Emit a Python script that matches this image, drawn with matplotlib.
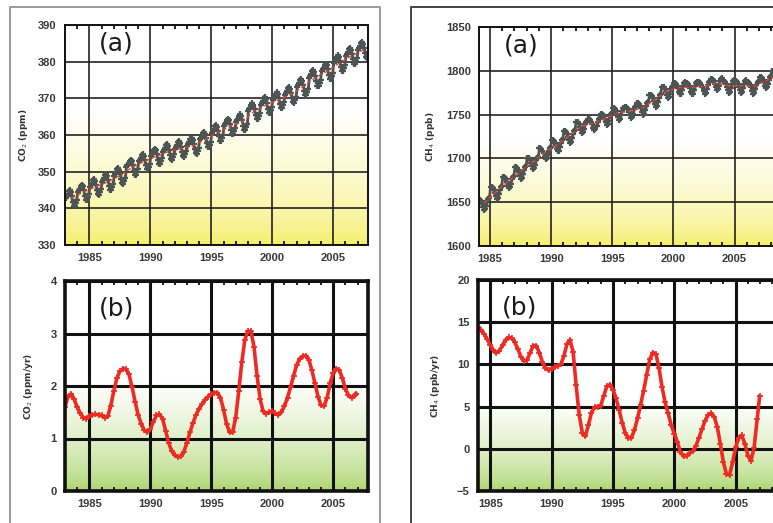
import numpy as np
import matplotlib
matplotlib.use("Agg")
import matplotlib.pyplot as plt
from matplotlib.lines import Line2D
from matplotlib.ticker import MultipleLocator

# ---------------- data ----------------
co2_years = list(range(1983, 2008))
co2_annual = [342.8, 344.4, 345.9, 347.2, 348.9, 351.2, 352.8, 354.2, 355.5, 356.3,
              357.1, 358.8, 360.6, 362.4, 363.5, 366.5, 368.2, 369.5, 371.0, 373.1,
              375.6, 377.4, 379.6, 381.6, 383.3]
co2_season = [0.0, 0.5, 1.0, 1.8, 2.1, 1.6, 0.5, -1.0, -2.1, -2.2, -1.4, -0.6]

ch4_years = list(range(1984, 2009))
ch4_annual = [1649, 1662, 1674, 1685, 1696, 1707, 1716, 1726, 1737, 1740,
              1746, 1752, 1754, 1758, 1767, 1777, 1781, 1781, 1782, 1786,
              1783, 1783, 1782, 1788, 1795]
ch4_season = [5, 5, 4, 2, -1, -5, -8, -7, -3, 2, 5, 6]

co2_rate_t = [1983.00, 1983.25, 1983.50, 1983.75, 1984.00, 1984.25, 1984.50, 1984.75,
              1985.00, 1985.25, 1985.50, 1985.75, 1986.00, 1986.25, 1986.50, 1986.75,
              1987.00, 1987.25, 1987.50, 1987.75, 1988.00, 1988.25, 1988.50, 1988.75,
              1989.00, 1989.25, 1989.50, 1989.75, 1990.00, 1990.25, 1990.50, 1990.75,
              1991.00, 1991.25, 1991.50, 1991.75, 1992.00, 1992.25, 1992.50, 1992.75,
              1993.00, 1993.25, 1993.50, 1993.75, 1994.00, 1994.25, 1994.50, 1994.75,
              1995.00, 1995.25, 1995.50, 1995.75, 1996.00, 1996.25, 1996.50, 1996.75,
              1997.00, 1997.25, 1997.50, 1997.75, 1998.00, 1998.25, 1998.50, 1998.75,
              1999.00, 1999.25, 1999.50, 1999.75, 2000.00, 2000.25, 2000.50, 2000.75,
              2001.00, 2001.25, 2001.50, 2001.75, 2002.00, 2002.25, 2002.50, 2002.75,
              2003.00, 2003.25, 2003.50, 2003.75, 2004.00, 2004.25, 2004.50, 2004.75,
              2005.00, 2005.25, 2005.50, 2005.75, 2006.00, 2006.25, 2006.50, 2006.75,
              2006.90]
co2_rate = [1.60, 1.80, 1.85, 1.75, 1.60, 1.48, 1.40, 1.38,
            1.42, 1.45, 1.46, 1.45, 1.44, 1.40, 1.42, 1.62,
            1.90, 2.15, 2.28, 2.33, 2.32, 2.22, 1.98, 1.70,
            1.45, 1.28, 1.16, 1.12, 1.18, 1.32, 1.44, 1.46,
            1.38, 1.15, 0.92, 0.76, 0.68, 0.65, 0.66, 0.75,
            0.92, 1.12, 1.30, 1.45, 1.57, 1.66, 1.74, 1.80,
            1.84, 1.87, 1.87, 1.78, 1.55, 1.28, 1.12, 1.12,
            1.40, 1.90, 2.45, 2.88, 3.05, 3.04, 2.75, 2.20,
            1.75, 1.52, 1.47, 1.50, 1.52, 1.48, 1.45, 1.50,
            1.62, 1.78, 1.98, 2.20, 2.40, 2.52, 2.57, 2.58,
            2.50, 2.30, 2.05, 1.80, 1.63, 1.62, 1.78, 2.05,
            2.25, 2.33, 2.30, 2.15, 1.95, 1.82, 1.78, 1.82,
            1.85]

ch4_rate_t = [1984.00, 1984.25, 1984.50, 1984.75, 1985.00, 1985.25, 1985.50, 1985.75,
              1986.00, 1986.25, 1986.50, 1986.75, 1987.00, 1987.25, 1987.50, 1987.75,
              1988.00, 1988.25, 1988.50, 1988.75, 1989.00, 1989.25, 1989.50, 1989.75,
              1990.00, 1990.25, 1990.50, 1990.75, 1991.00, 1991.25, 1991.50, 1991.75,
              1992.00, 1992.25, 1992.50, 1992.75, 1993.00, 1993.25, 1993.50, 1993.75,
              1994.00, 1994.25, 1994.50, 1994.75, 1995.00, 1995.25, 1995.50, 1995.75,
              1996.00, 1996.25, 1996.50, 1996.75, 1997.00, 1997.25, 1997.50, 1997.75,
              1998.00, 1998.25, 1998.50, 1998.75, 1999.00, 1999.25, 1999.50, 1999.75,
              2000.00, 2000.25, 2000.50, 2000.75, 2001.00, 2001.25, 2001.50, 2001.75,
              2002.00, 2002.25, 2002.50, 2002.75, 2003.00, 2003.25, 2003.50, 2003.75,
              2004.00, 2004.25, 2004.50, 2004.75, 2005.00, 2005.25, 2005.50, 2005.75,
              2006.00, 2006.25, 2006.50, 2006.75, 2006.95]
ch4_rate = [14.4, 14.1, 13.6, 13.0, 12.3, 11.7, 11.4, 11.6,
            12.3, 12.9, 13.2, 13.1, 12.6, 11.8, 10.9, 10.4,
            10.5, 11.4, 12.2, 12.2, 11.4, 10.3, 9.6, 9.3,
            9.5, 9.7, 9.8, 10.0, 11.0, 12.4, 12.9, 11.5,
            7.5, 4.0, 1.9, 1.5, 2.8, 4.3, 4.9, 5.0,
            5.1, 6.3, 7.4, 7.6, 7.0, 6.0, 4.6, 3.1,
            1.9, 1.3, 1.3, 2.2, 3.6, 5.2, 6.9, 8.8,
            10.6, 11.4, 11.2, 9.6, 7.3, 5.5, 4.2, 2.8,
            1.8, 0.8, -0.4, -0.9, -0.8, -0.5, -0.3, 0.3,
            1.3, 2.3, 3.3, 4.0, 4.2, 3.8, 2.6, 0.6,
            -1.6, -3.0, -3.1, -1.6, 0.2, 1.3, 1.6, 0.6,
            -0.8, -1.4, 0.1, 3.5, 6.2]

xticks = [1985, 1990, 1995, 2000, 2005]

# ---------------- figure ----------------
W, H = 773, 523
fig = plt.figure(figsize=(W / 100, H / 100), dpi=100)
fig.patch.set_facecolor("white")


def px_axes(left, top, right, bottom):
    return fig.add_axes([left / W, 1 - bottom / H, (right - left) / W, (bottom - top) / H])


def gradient(ax, xlim, ylim, f0, base, power=1.0):
    n = 300
    f = np.linspace(1, 0, n)  # top row first
    w = np.clip(f / f0, 0, 1) ** power
    base = np.array(base) / 255.0
    img = w[:, None, None] * np.ones(3) + (1 - w)[:, None, None] * base
    img = np.repeat(img, 2, axis=1)
    ax.imshow(img, extent=[xlim[0], xlim[1], ylim[0], ylim[1]], aspect="auto",
              zorder=0, interpolation="bilinear")


tick_font = dict(family="Liberation Sans", weight="bold", size=8)
tick_color = "#383838"


def style(ax, xlim, ylim, yticks, thick):
    ax.set_xlim(*xlim)
    ax.set_ylim(*ylim)
    ax.set_xticks(xticks)
    ax.set_yticks(yticks)
    ax.xaxis.set_minor_locator(MultipleLocator(1))
    lw_grid = 2.2 if thick else 1.2
    lw_sp = 2.6 if thick else 1.4
    ax.grid(True, which="major", color="#111111" if thick else "#222222",
            lw=lw_grid, zorder=1)
    ax.set_axisbelow(False)
    for s in ax.spines.values():
        s.set_linewidth(lw_sp)
        s.set_color("#111111")
        s.set_zorder(5)
    ax.tick_params(axis="both", which="major", length=0, pad=6,
                   labelcolor=tick_color)
    ax.tick_params(axis="x", which="minor", direction="in", length=3, width=1.3,
                   top=True, bottom=True, color="#111111")
    for lab in ax.get_xticklabels() + ax.get_yticklabels():
        lab.set_fontproperties(matplotlib.font_manager.FontProperties(**tick_font))


gray = "#4c5454"
red_trend = "#e8412c"
red = "#ee2a22"

# ---- left top: CO2 ----
ax1 = px_axes(65, 25, 368, 245)
xl1 = (1983.0, 2007.85)
yl1 = (330, 390)
gradient(ax1, xl1, yl1, 0.62, (244, 237, 92), 0.55)
t_co2 = [y + (m + 0.5) / 12 for y in co2_years for m in range(12)]
v_co2 = [a + s for a in co2_annual for s in co2_season]
ax1.plot(t_co2, v_co2, color=gray, lw=2.0, marker="+", ms=5, mew=1.6, zorder=3)
ax1.plot([y + 0.5 for y in co2_years], co2_annual, color=red_trend, lw=1.0,
         ls=(0, (3, 2)), zorder=4)
style(ax1, xl1, yl1, [330, 340, 350, 360, 370, 380, 390], False)
ax1.set_ylabel("CO$_2$ (ppm)", fontsize=6.5, fontweight="bold", color="#333333",
               labelpad=6)
ax1.text(0.17, 0.915, "(a)", transform=ax1.transAxes, fontsize=18,
         ha="center", va="center", color="#1a1a1a", zorder=6,
         bbox=dict(facecolor="white", edgecolor="none", pad=0))

# ---- left bottom: CO2 rate ----
ax2 = px_axes(65, 281, 368, 491)
xl2 = (1983.0, 2007.85)
yl2 = (0, 4)
gradient(ax2, xl2, yl2, 0.52, (166, 210, 100), 0.6)
ax2.plot(co2_rate_t, co2_rate, color=red, lw=2.6, marker="+", ms=4, mew=1.2, zorder=3)
style(ax2, xl2, yl2, [0, 1, 2, 3, 4], True)
ax2.set_ylabel("CO$_2$ (ppm/yr)", fontsize=6.5, fontweight="bold", color="#333333",
               labelpad=11)
ax2.text(0.17, 0.87, "(b)", transform=ax2.transAxes, fontsize=18,
         ha="center", va="center", color="#1a1a1a", zorder=6)

# ---- right top: CH4 ----
ax3 = px_axes(479, 27, 478 + 24.4 * 12.27, 246)
xl3 = (1984.1, 2008.5)
yl3 = (1600, 1850)
gradient(ax3, xl3, yl3, 0.48, (244, 237, 92), 0.55)
t_ch4 = [y + (m + 0.5) / 12 for y in ch4_years for m in range(12)]
v_ch4 = [a + s for a in ch4_annual for s in ch4_season]
ax3.plot(t_ch4, v_ch4, color=gray, lw=2.0, marker="+", ms=5, mew=1.6, zorder=3)
ax3.plot([y + 0.5 for y in ch4_years], ch4_annual, color=red_trend, lw=1.0,
         ls=(0, (3, 2)), zorder=4)
style(ax3, xl3, yl3, [1600, 1650, 1700, 1750, 1800, 1850], False)
ax3.set_ylabel("CH$_4$ (ppb)", fontsize=6.5, fontweight="bold", color="#333333",
               labelpad=6)
ax3.text(0.14, 0.915, "(a)", transform=ax3.transAxes, fontsize=18,
         ha="center", va="center", color="#1a1a1a", zorder=6,
         bbox=dict(facecolor="white", edgecolor="none", pad=0))

# ---- right bottom: CH4 rate ----
ax4 = px_axes(478, 280, 478 + 24.4 * 12.27, 491)
xl4 = (1984.0, 2008.4)
yl4 = (-5, 20)
gradient(ax4, xl4, yl4, 0.42, (166, 210, 100), 0.6)
ax4.plot(ch4_rate_t, ch4_rate, color=red, lw=2.6, marker="+", ms=4, mew=1.2, zorder=3)
style(ax4, xl4, yl4, [-5, 0, 5, 10, 15, 20], True)
ax4.set_ylabel("CH$_4$ (ppb/yr)", fontsize=6.5, fontweight="bold", color="#333333",
               labelpad=11)
ax4.text(0.14, 0.87, "(b)", transform=ax4.transAxes, fontsize=18,
         ha="center", va="center", color="#1a1a1a", zorder=6)

# ---- outer frames ----
def fline(xs, ys, color, lw):
    fig.add_artist(Line2D([x / W for x in xs], [1 - y / H for y in ys],
                          transform=fig.transFigure, color=color, lw=lw))

fline([10, 10, 380, 380], [523, 7, 7, 523], "#9a9a9a", 1.4)
fline([411, 411, 773], [523, 7, 7], "#444444", 1.4)

fig.savefig("out.png", dpi=100, facecolor="white")
